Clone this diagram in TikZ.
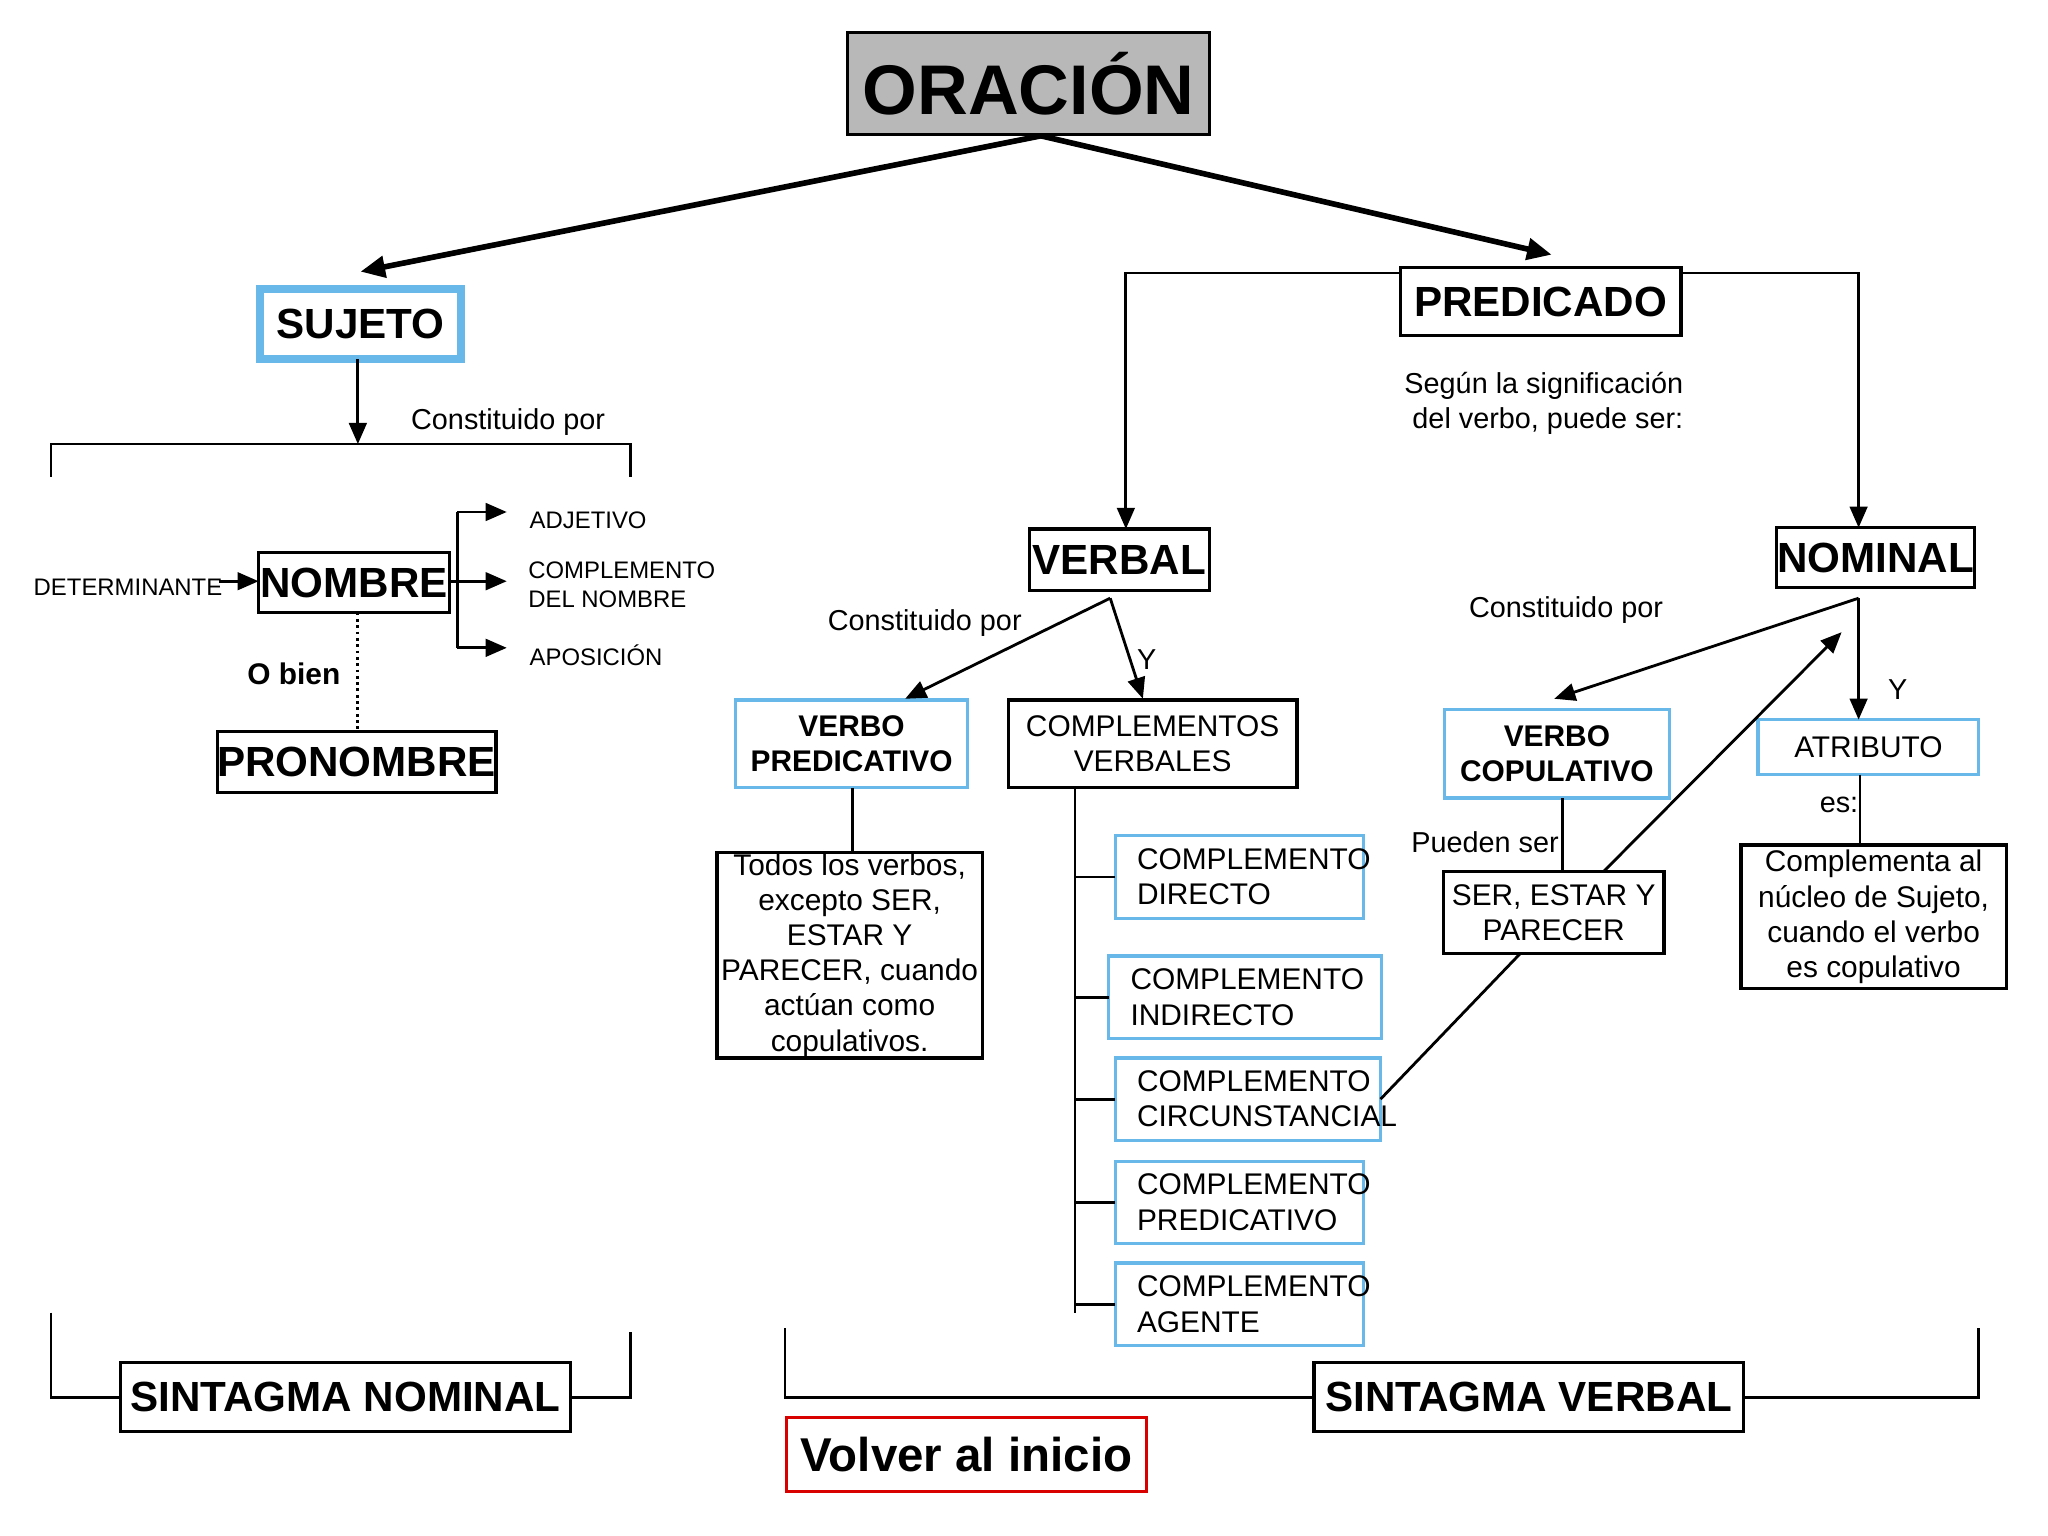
\documentclass[tikz,border=0pt]{standalone}
\usepackage{fontspec}
\setmainfont{Liberation Sans}
\usetikzlibrary{arrows.meta,calc}
\newcommand\bx[7]{\node[#6, minimum width={(#4-#2)*0.01306cm}, minimum height={(#5-#3)*0.01306cm}, inner sep=0pt, outer sep=0pt] (#1) at ({(#2+#4)/2},{(#3+#5)/2}) {#7};}
\tikzset{
  box/.style={draw=black, line width=0.9pt, align=center},
  cbox/.style={draw=cyan!80!blue!60, line width=0.9pt, align=center},
  big/.style={font=\fontsize{12}{14}\selectfont\bfseries},
  mid/.style={font=\fontsize{8.5}{10}\selectfont},
  midb/.style={font=\fontsize{8.5}{10}\selectfont\bfseries},
  lbl/.style={font=\fontsize{8.2}{10}\selectfont, align=center, inner sep=0pt},
  sml/.style={font=\fontsize{6.8}{8.2}\selectfont, align=left, inner sep=0pt},
  ln/.style={line width=0.8pt},
  ar/.style={line width=0.8pt, -{Triangle[length=6pt,width=5pt]}},
  bar/.style={line width=1.6pt, -{Triangle[length=7pt,width=6pt]}}
}
\begin{document}
\begin{tikzpicture}[x=0.01306cm,y=-0.01306cm]
\useasboundingbox (0,0) rectangle (1568,1176);
\bx{or}{649}{25}{926}{103}{box,fill=black!28,font=\fontsize{20}{24}\selectfont\bfseries}{ORACIÓN}
\bx{suj}{199}{221}{353}{275}{draw=cyan!80!blue!60,line width=2.2pt,big}{SUJETO}
\bx{pred}{1072}{205}{1287}{257}{box,big}{PREDICADO}
\bx{nom}{198}{423}{344}{469}{box,big}{NOMBRE}
\bx{pron}{171}{560}{375}{607}{box,big}{PRONOMBRE}
\bx{sn}{92}{1043}{437}{1096}{box,big}{SINTAGMA NOMINAL}
\bx{sv}{1006}{1043}{1335}{1096}{box,big}{SINTAGMA VERBAL}
\bx{vol}{602}{1085}{878}{1142}{draw=red!85!black,line width=0.9pt,font=\fontsize{13.5}{16}\selectfont\bfseries}{Volver al inicio}
\bx{verbal}{788}{405}{926}{452}{box,big}{VERBAL}
\bx{nominal}{1360}{404}{1512}{450}{box,big}{NOMINAL}
\bx{vp}{563}{536}{741}{603}{cbox,midb}{VERBO\\PREDICATIVO}
\bx{cv}{772}{536}{993}{603}{box,mid}{COMPLEMENTOS\\VERBALES}
\bx{todos}{549}{653}{752}{810}{box,mid}{Todos los verbos,\\excepto SER,\\ESTAR Y\\PARECER, cuando\\actúan como\\copulativos.}
\bx{cd}{854}{640}{1044}{703}{cbox,mid}{}
\bx{ci}{849}{732}{1058}{795}{cbox,mid}{}
\bx{cc}{854}{810}{1057}{873}{cbox,mid}{}
\bx{cp}{854}{889}{1044}{952}{cbox,mid}{}
\bx{ca}{854}{967}{1044}{1030}{cbox,mid}{}
\foreach \n/\t in {cd/DIRECTO,ci/INDIRECTO,cc/CIRCUNSTANCIAL,cp/PREDICATIVO,ca/AGENTE}
  \node[mid,align=left,anchor=west,inner sep=0pt] at ($(\n.west)+(16,0)$) {COMPLEMENTO\\\t};
\bx{vc}{1106}{543}{1278}{611}{cbox,midb}{VERBO\\COPULATIVO}
\bx{atr}{1346}{551}{1515}{593}{cbox,mid}{ATRIBUTO}
\bx{ser}{1105}{667}{1274}{730}{box,mid}{SER, ESTAR Y\\PARECER}
\bx{compl}{1333}{647}{1536}{757}{box,mid}{Complementa al\\núcleo de Sujeto,\\cuando el verbo\\es copulativo}
% labels
\node[lbl] at (389,323) {Constituido por};
\node[sml] at (98,450) {DETERMINANTE};
\node[sml,anchor=west] at (405,398) {ADJETIVO};
\node[sml,anchor=west] at (404,448) {COMPLEMENTO\\DEL NOMBRE};
\node[sml,anchor=west] at (405,502) {APOSICIÓN};
\node[lbl,font=\fontsize{8.5}{10}\selectfont\bfseries] at (225,516) {O bien};
\node[lbl] at (1182,309) {Según la significación\\\ del verbo, puede ser:};
\node[lbl] at (708,477) {Constituido por};
\node[lbl] at (878,505) {Y};
\node[lbl] at (1199,467) {Constituido por};
\node[lbl] at (1453,528) {Y};
\node[lbl] at (1140,645) {Pueden ser:};
\node[lbl] at (1408,616) {es:};
% oracion arrows
\coordinate (o1) at (797,104);
\draw[bar] (o1) -- (276,208);
\draw[bar] (o1) -- (1188,195);
% sujeto bracket
\draw[ln] (39,365) -- (39,340) -- (483,340) -- (483,365);
\draw[ar] (suj.south -| 274,0) -- (274,340);
\draw[ar] (168,445) -- (nom.west |- 0,445);
\draw[ln] (nom.east |- 0,445) -- (350,445);
\draw[ln] (350,392) -- (350,496);
\foreach \yy in {392,445,496} \draw[ar] (350,\yy) -- (388,\yy);
\draw[densely dotted, line width=0.8pt] (nom.south -| 274,0) -- (pron.north -| 274,0);
% sintagma brackets
\draw[ln] (39,1005) -- (39,1070) -- (sn.west |- 0,1070);
\draw[ln] (sn.east |- 0,1070) -- (483,1070) -- (483,1020);
\draw[ln] (601,1017) -- (601,1070) -- (sv.west |- 0,1070);
\draw[ln] (sv.east |- 0,1070) -- (1515,1070) -- (1515,1017);
% predicado
\draw[ar] (pred.west |- 0,209) -- (862,209) -- (verbal.north -| 862,0);
\draw[ar] (pred.east |- 0,209) -- (1423,209) -- (nominal.north -| 1423,0);
% verbal
\coordinate (vb) at (850,458);
\draw[ar] (vb) -- (693,535);
\draw[ar] (vb) -- (875,535);
\draw[ln] (vp.south -| 653,0) -- (todos.north -| 653,0);
\draw[ln] (823,603) -- (823,1005);
\foreach \n in {cd,ci,cc,cp,ca} \draw[ln] (823,0 |- \n.center) -- (\n.west);
% nominal
\coordinate (nb) at (1423,458);
\draw[ar] (nb) -- (1190,535);
\draw[ar] (nb) -- (atr.north -| 1423,0);
\draw[ln] (vc.south -| 1196,0) -- (ser.north -| 1196,0);
\draw[ln] (cc.east) -- (1164,730);
\draw[ar] (1228,667) -- (1410,484);
\draw[ln] (atr.south -| 1424,0) -- (compl.north -| 1424,0);
\end{tikzpicture}
\end{document}
